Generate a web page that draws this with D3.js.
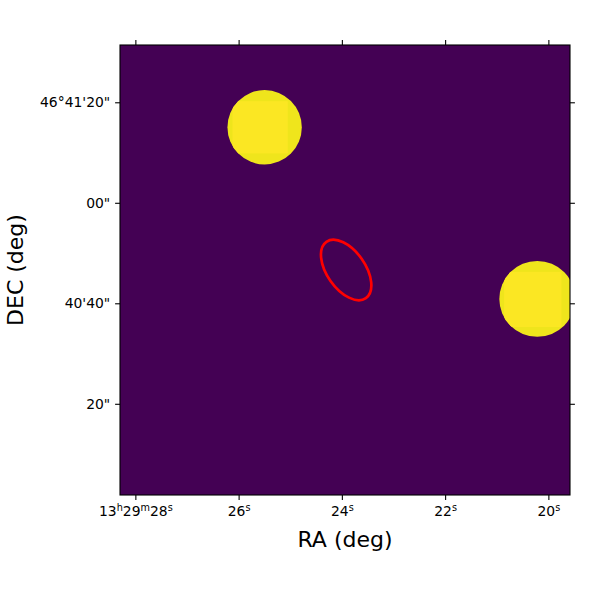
<!DOCTYPE html>
<html>
<head>
<meta charset="utf-8">
<script src="https://cdn.jsdelivr.net/npm/d3@7"></script>
<style>
  body { margin: 0; background: #fff; }
  text { font-family: "DejaVu Sans", sans-serif; fill: #000; }
</style>
</head>
<body>
<svg id="chart" width="600" height="600"></svg>
<script>
'use strict';

// RA in seconds of 13h29m, DEC in arcsec above 46°40'00"
var raTicks = [28, 26, 24, 22, 20];
var raLabels = [
    [['13', ''], ['h', 'sup'], ['29', ''], ['m', 'sup'], ['28', ''], ['s', 'sup']],
    [['26', ''], ['s', 'sup']],
    [['24', ''], ['s', 'sup']],
    [['22', ''], ['s', 'sup']],
    [['20', ''], ['s', 'sup']]
];
var decTicks = [80, 60, 40, 20];
var decLabels = ['46°41\'20"', '00"', '40\'40"', '20"'];

var raDomain = [28.2976, 19.581];
var decDomain = [1.85, 91.40];

// bright sources (circular regions)
var sourceRa = [25.496, 20.215];
var sourceDec = [75.03, 40.87];
var sourceRadius = [7.4, 7.55];
// slightly brighter square patch inside each source: [left, right, top, bottom] offsets in arcsec
var patchBox = [[-6.4, 4.6, 5.2, -5.2], [-6.6, 4.8, 5.4, -5.6]];

// ellipse region: centre, semi axes (arcsec), rotation (deg, clockwise on screen)
var ellipseRa = [23.917];
var ellipseDec = [46.63];
var ellipseA = [6.85];
var ellipseB = [3.8];
var ellipseAngle = [55];

var margin = {left: 120, top: 45, right: 30, bottom: 105};
var width = 600 - margin.left - margin.right;
var height = 600 - margin.top - margin.bottom;

var svg = d3.select('#chart');
var g = svg.append('g').attr('transform', 'translate(' + margin.left + ',' + margin.top + ')');

var xscale = d3.scaleLinear().domain(raDomain).range([0, width]);
var yscale = d3.scaleLinear().domain(decDomain).range([height, 0]);
var pxPerArcsec = Math.abs(yscale(1) - yscale(0));

g.append('clipPath').attr('id', 'plotclip')
    .append('rect').attr('width', width).attr('height', height);

g.append('rect').attr('width', width).attr('height', height).attr('fill', '#440154');

var img = g.append('g').attr('clip-path', 'url(#plotclip)');

sourceRa.forEach(function (ra, i) {
    var cx = xscale(ra), cy = yscale(sourceDec[i]);
    var r = sourceRadius[i] * pxPerArcsec;
    var cid = 'src' + i;
    img.append('clipPath').attr('id', cid)
        .append('circle').attr('cx', cx).attr('cy', cy).attr('r', r);
    img.append('circle').attr('cx', cx).attr('cy', cy).attr('r', r).attr('fill', '#efe51c');
    var box = patchBox[i];
    img.append('rect')
        .attr('clip-path', 'url(#' + cid + ')')
        .attr('x', cx + box[0] * pxPerArcsec)
        .attr('y', cy - box[2] * pxPerArcsec)
        .attr('width', (box[1] - box[0]) * pxPerArcsec)
        .attr('height', (box[2] - box[3]) * pxPerArcsec)
        .attr('fill', '#fbe723');
});

img.selectAll('ellipse').data(ellipseRa).enter().append('ellipse')
    .attr('rx', function (d, i) { return ellipseA[i] * pxPerArcsec; })
    .attr('ry', function (d, i) { return ellipseB[i] * pxPerArcsec; })
    .attr('transform', function (d, i) {
        return 'translate(' + xscale(d) + ',' + yscale(ellipseDec[i]) + ') rotate(' + ellipseAngle[i] + ')';
    })
    .attr('fill', 'none')
    .attr('stroke', '#ff0000')
    .attr('stroke-width', 2.7);

// frame
g.append('rect').attr('width', width).attr('height', height)
    .attr('fill', 'none').attr('stroke', '#000').attr('stroke-width', 1.1);

// ticks on all four sides
var tickLen = 4.9;
var bottomAxis = d3.axisBottom(xscale).tickValues(raTicks).tickSize(tickLen).tickFormat('');
var topAxis = d3.axisTop(xscale).tickValues(raTicks).tickSize(tickLen).tickFormat('');
var leftAxis = d3.axisLeft(yscale).tickValues(decTicks).tickSize(tickLen)
    .tickFormat(function (d, i) { return decLabels[i]; }).tickPadding(4.9);
var rightAxis = d3.axisRight(yscale).tickValues(decTicks).tickSize(tickLen).tickFormat('');

function styleAxis(sel) {
    sel.select('.domain').remove();
    sel.selectAll('.tick line').attr('stroke', '#000').attr('stroke-width', 1.1);
    sel.selectAll('.tick text').attr('font-size', '13.9px').attr('font-family', 'DejaVu Sans').attr('fill', '#000');
}

var bx = g.append('g').attr('transform', 'translate(0,' + height + ')').call(bottomAxis).call(styleAxis);
g.append('g').call(topAxis).call(styleAxis);
g.append('g').call(leftAxis).call(styleAxis);
g.append('g').attr('transform', 'translate(' + width + ',0)').call(rightAxis).call(styleAxis);

// sexagesimal RA labels with superscript units
bx.selectAll('.tick text').remove();
bx.selectAll('.tick').each(function (d, i) {
    var t = d3.select(this).append('text')
        .attr('y', 20.5)
        .attr('text-anchor', 'middle')
        .attr('font-size', '13.9px');
    raLabels[i].forEach(function (part) {
        if (part[1] === 'sup') {
            t.append('tspan').attr('font-size', '9.7px').attr('baseline-shift', '5px').text(part[0]);
        } else {
            t.append('tspan').text(part[0]);
        }
    });
});

svg.append('text')
    .attr('x', margin.left + width / 2)
    .attr('y', 547)
    .attr('text-anchor', 'middle')
    .attr('font-size', '22px')
    .text('RA (deg)');

svg.append('text')
    .attr('transform', 'translate(23,' + (margin.top + height / 2) + ') rotate(-90)')
    .attr('text-anchor', 'middle')
    .attr('font-size', '22px')
    .text('DEC (deg)');
</script>
</body>
</html>
